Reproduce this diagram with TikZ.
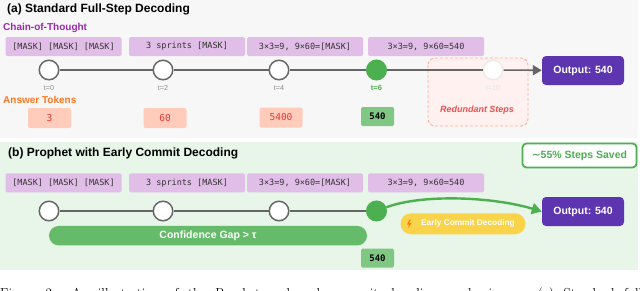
\documentclass[tikz,border=0pt]{standalone}
\usepackage{fontspec}
\newfontfamily\sfb{Liberation Sans}
\newfontfamily\mono{DejaVu Sans Mono}
\newfontfamily\dejavu{DejaVu Sans}
\usetikzlibrary{arrows.meta}
\definecolor{panelA}{HTML}{F7F7F7}
\definecolor{panelB}{HTML}{E8F5E9}
\definecolor{maskfill}{HTML}{E1BEE7}
\definecolor{cotpurple}{HTML}{9C27B0}
\definecolor{ansorange}{HTML}{FF7722}
\definecolor{ansfill}{HTML}{FFCCBC}
\definecolor{ansred}{HTML}{E53935}
\definecolor{gr}{HTML}{4CAF50}
\definecolor{grbox}{HTML}{81C784}
\definecolor{grbar}{HTML}{66BB6A}
\definecolor{outpurple}{HTML}{5E35B1}
\definecolor{yel}{HTML}{F9D34A}
\definecolor{linegray}{HTML}{666666}
\definecolor{redline}{HTML}{FFAB91}
\definecolor{redfill}{HTML}{FFF1F0}
\definecolor{redtext}{HTML}{EF5350}
\begin{document}
\begin{tikzpicture}[x=1pt,y=-1pt,
  maskbox/.style={fill=maskfill, rounded corners=1.5pt, minimum width=116pt, minimum height=19pt, inner sep=0pt, text=black!80, font=\mono\fontsize{8.5}{10}\selectfont},
  tnode/.style={circle, draw=linegray, fill=white, line width=1.5pt, minimum size=19.5pt, inner sep=0pt},
  tlabel/.style={font=\sfb\fontsize{7.2}{8}\selectfont, text=black!45},
  ansbox/.style={fill=ansfill, rounded corners=2pt, minimum width=43pt, minimum height=20pt, inner sep=0pt, text=ansred, font=\mono\fontsize{9.5}{11}\selectfont},
  finalbox/.style={fill=grbox, rounded corners=1.5pt, minimum width=33pt, minimum height=19pt, inner sep=0pt, text=black, font=\mono\bfseries\fontsize{9}{10}\selectfont},
  outbox/.style={fill=outpurple, rounded corners=4pt, minimum width=82pt, minimum height=29pt, inner sep=0pt, text=white, font=\sfb\bfseries\fontsize{10.5}{12}\selectfont},
  title/.style={anchor=base west, inner sep=0pt, font=\sfb\bfseries\fontsize{12}{14}\selectfont},
  sectlabel/.style={anchor=base west, inner sep=0pt, font=\sfb\bfseries\fontsize{10}{12}\selectfont},
  tline/.style={draw=linegray, line width=1.6pt}
]
\useasboundingbox (0,0) rectangle (640,290);
\begin{scope}
\clip (0,0) rectangle (640,290);
% panels
\fill[panelA] (0,0) rectangle (638,138);
\fill[panelB] (0,142) rectangle (638,270);

% ---------- panel (a) ----------
\node[title] (ta) at (7,12.5) {(a) Standard Full-Step Decoding};
\node[sectlabel, text=cotpurple] (cota) at (3,30) {Chain-of-Thought};
\node[maskbox] (ma1) at (63.5,46.5) {[MASK] [MASK] [MASK]};
\node[maskbox] (ma2) at (187,46.5) {3 sprints [MASK]};
\node[maskbox] (ma3) at (305,46.5) {3×3=9, 9×60=[MASK]};
\node[maskbox] (ma4) at (426,46.5) {3×3=9, 9×60=540};

% redundant steps box
\draw[redline, fill=redfill, line width=0.9pt, rounded corners=7pt, dash pattern=on 3pt off 2pt] (428,58) rectangle (528,126);
\node[font=\sfb\bfseries\itshape\fontsize{9}{10}\selectfont, text=redtext] (red) at (477,110) {Redundant Steps};

\node[tnode] (a0) at (49,70) {};
\node[tnode] (a2) at (163,70) {};
\node[tnode] (a4) at (279,70) {};
\node[tnode, draw=gr, fill=gr] (a6) at (376.5,70) {};
\node[tnode, draw=black!8, fill=white] (a10) at (493,70) {};
\node[outbox] (outa) at (583,70.5) {Output: 540};
\draw[tline] (a0) -- (a2) -- (a4) -- (a6) -- (a10);
\draw[tline, -{Triangle[length=9pt,width=10pt]}] (a10) -- (outa);

\node[tlabel] (la0) at (49,88) {t=0};
\node[tlabel] (la2) at (163,88) {t=2};
\node[tlabel] (la4) at (279,88) {t=4};
\node[tlabel, text=gr, font=\sfb\bfseries\fontsize{7.5}{8}\selectfont] (la6) at (376.5,88) {t=6};
\node[tlabel, text=black!10] (la10) at (493,88) {t=10};

\node[sectlabel, text=ansorange] (ansl) at (3,103) {Answer Tokens};
\node[ansbox] (an1) at (49.5,118) {3};
\node[ansbox] (an2) at (165,118) {60};
\node[ansbox] (an3) at (281,117.5) {5400};
\node[finalbox] (an4) at (377.5,116.5) {540};

% ---------- panel (b) ----------
\node[title] (tb) at (8,156.5) {(b) Prophet with Early Commit Decoding};
\node[draw=gr, fill=white, line width=1.8pt, rounded corners=4pt, minimum width=114pt, minimum height=24pt, inner sep=0pt, text=gr, font=\sfb\bfseries\fontsize{10.5}{12}\selectfont] (saved) at (579.5,155.5) {{\dejavu\bfseries ∼}55\% Steps Saved};

\node[maskbox] (mb1) at (63.5,182.8) {[MASK] [MASK] [MASK]};
\node[maskbox] (mb2) at (187,182.8) {3 sprints [MASK]};
\node[maskbox] (mb3) at (305,182.8) {3×3=9, 9×60=[MASK]};
\node[maskbox] (mb4) at (426,182.8) {3×3=9, 9×60=540};

\node[fill=grbar, rounded corners=9.75pt, minimum width=318pt, minimum height=19.5pt, inner sep=0pt, text=white, font=\sfb\bfseries\fontsize{10.5}{12}\selectfont] (gap) at (208,235.7) {Confidence Gap > τ};

\node[tnode] (b0) at (49,211) {};
\node[tnode] (b2) at (163,211) {};
\node[tnode] (b4) at (279,211) {};
\node[tnode, draw=gr, fill=gr] (b6) at (376.5,211) {};
\draw[tline] (b0) -- (b2) -- (b4) -- (b6);

\node[outbox] (outb) at (583,211.5) {Output: 540};
\node[fill=yel, rounded corners=10.5pt, minimum width=125pt, minimum height=21pt, inner sep=0pt, text=white, font=\sfb\bfseries\fontsize{8.3}{9}\selectfont] (early) at (463,223.8) {\hspace*{10pt}Early Commit Decoding};
\fill[orange] (409.5,219.5) -- (407,224.5) -- (409.3,224.5) -- (408,228.5) -- (411.5,223) -- (409.2,223) -- (411,219.5) -- cycle;
\draw[gr, line width=2.4pt, -{Triangle[length=10pt,width=11pt]}] (b6) .. controls +(45,-17) and +(-50,-15) .. (outb.west);

\node[finalbox] (bn4) at (377.5,258) {540};

% caption (cut off at the bottom, as in the reference)
\node[anchor=base west, inner sep=0pt, font=\fontsize{13}{15}\selectfont] (cap) at (0,297) {\makebox[642pt][s]{Figure 2: An illustration of the Prophet and early commit decoding mechanisms. (a) Standard full}};
\end{scope}
\end{tikzpicture}
\end{document}
